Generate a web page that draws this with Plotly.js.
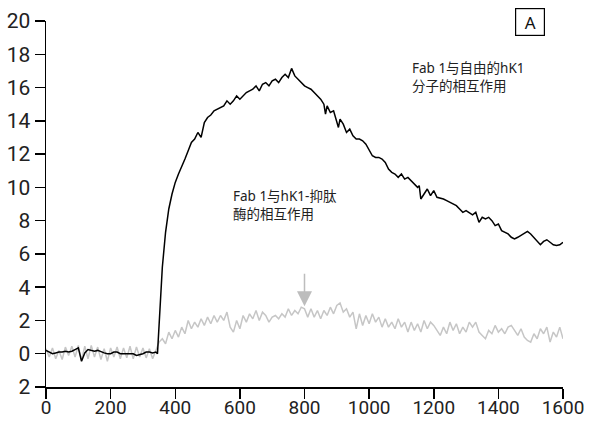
<!DOCTYPE html>
<html>
<head>
<meta charset="utf-8">
<script src="https://cdn.plot.ly/plotly-3.0.1.min.js"></script>
<style>
  html, body { margin: 0; padding: 0; background: #fff; }
  #chart { width: 589px; height: 421px; }
</style>
</head>
<body>
<div id="chart"></div>
<script>
// Response over time (s) for Fab 1 binding
const freeTime = [0,10,20,30,40,50,60,70,80,90,100,110,120,130,140,150,160,170,180,190,200,210,220,230,240,250,260,270,280,290,300,310,320,330,340,345,
  350,360,370,380,390,400,410,420,430,440,450,460,470,480,490,500,510,520,530,540,550,560,570,580,590,600,610,620,630,640,650,660,670,680,690,700,
  710,720,730,740,750,760,770,780,790,800,810,820,830,840,850,860,865,870,880,890,900,905,910,920,930,940,950,960,970,980,990,1000,
  1010,1020,1030,1040,1050,1060,1070,1080,1090,1100,1110,1120,1130,1140,1150,1155,1160,1170,1180,1190,1200,1210,1220,1230,1240,1250,1260,1270,1280,1290,1300,
  1310,1320,1330,1340,1350,1360,1370,1380,1390,1400,1410,1420,1430,1440,1450,1460,1470,1480,1490,1500,1510,1520,1530,1540,1550,1560,1570,1580,1590,1600];
const freeResp = [0.2,0.1,0.0,0.05,0.1,0.1,0.15,0.1,0.15,0.25,0.35,-0.45,0.05,0.25,0.2,0.15,0.2,0.1,0.05,0.0,0.0,0.1,0.1,0.0,0.0,0.0,0.0,0.0,-0.1,-0.05,0.0,0.1,0.1,0.05,0.1,0.0,
  2.0,5.2,7.3,8.7,9.6,10.3,10.8,11.2,11.7,12.2,12.7,12.9,13.3,13.0,13.9,14.2,14.35,14.6,14.7,14.8,14.9,15.2,15.0,15.2,15.5,15.3,15.5,15.7,15.8,15.9,16.1,15.8,16.2,16.3,16.1,16.4,
  16.5,16.3,16.6,16.8,16.6,17.15,16.7,16.5,16.3,16.1,16.0,15.9,15.7,15.5,15.3,15.0,14.4,14.9,14.5,14.6,14.0,13.6,14.1,13.8,13.3,13.5,13.1,12.9,12.9,12.8,12.6,12.2,
  11.9,11.8,11.8,11.7,11.5,11.1,10.9,10.8,10.6,10.8,10.5,10.6,10.4,10.2,10.0,10.1,9.3,9.6,9.9,9.5,9.8,9.4,9.35,9.3,9.2,9.1,9.0,8.9,8.7,8.5,8.6,
  8.5,8.35,8.5,7.9,8.2,8.1,8.2,8.0,7.7,7.8,7.4,7.3,7.2,7.0,6.9,7.0,7.1,7.2,7.35,7.2,7.0,6.8,6.55,6.75,6.85,6.7,6.55,6.5,6.55,6.7];

const complexTime = [0,10,20,30,40,50,60,70,80,90,100,110,120,130,140,150,160,170,180,190,200,210,220,230,240,250,260,270,280,290,300,310,320,330,340,
  350,360,370,380,390,400,410,420,430,440,450,460,470,480,490,500,510,520,530,540,550,560,570,580,590,600,610,620,630,640,650,660,670,680,690,700,
  710,720,730,740,750,760,770,780,790,800,810,820,830,840,850,860,870,880,890,900,910,920,930,940,950,960,970,980,990,1000,
  1010,1020,1030,1040,1050,1060,1070,1080,1090,1100,1110,1120,1130,1140,1150,1160,1170,1180,1190,1200,1210,1220,1230,1240,1250,1260,1270,1280,1290,1300,
  1310,1320,1330,1340,1350,1360,1370,1380,1390,1400,1410,1420,1430,1440,1450,1460,1470,1480,1490,1500,1510,1520,1530,1540,1550,1560,1570,1580,1590,1600];
const complexResp = [0.3,-0.2,0.35,-0.3,0.2,-0.35,0.4,-0.1,0.45,-0.2,0.5,-0.4,0.45,-0.3,0.5,-0.2,0.4,-0.35,0.3,-0.45,0.35,-0.2,0.4,-0.3,0.35,-0.25,0.45,-0.3,0.4,-0.2,0.35,-0.25,0.3,-0.3,0.2,
  0.7,0.9,0.6,1.3,0.9,1.4,1.0,1.6,1.2,2.0,1.5,1.9,1.6,2.1,1.7,2.2,1.8,2.3,1.9,2.3,2.0,2.5,1.6,1.3,2.0,1.5,2.3,1.9,2.4,2.1,2.6,2.0,2.5,2.3,1.9,2.2,
  2.3,2.1,2.4,2.2,2.7,2.3,2.6,2.4,2.8,2.7,2.2,2.7,2.2,2.6,2.1,2.6,2.3,2.8,2.4,2.9,3.05,2.5,2.7,2.2,2.5,1.5,2.4,1.7,2.3,1.8,
  2.4,1.9,2.2,1.6,2.1,1.6,1.9,1.5,2.1,1.6,1.9,1.3,1.9,1.4,1.8,1.3,2.0,1.5,1.9,1.7,1.4,1.1,1.6,1.2,1.9,1.4,1.8,1.2,1.6,1.3,
  1.9,1.6,1.9,1.3,1.1,0.9,1.4,1.2,1.7,1.3,1.5,1.2,1.6,1.7,1.4,1.1,1.5,1.0,0.8,0.7,1.2,0.9,1.5,1.2,1.6,0.7,1.3,1.0,1.6,0.9];

const yTickVals = [-2,0,2,4,6,8,10,12,14,16,18,20];
const yTickText = ['2','0','2','4','6','8','10','12','14','16','18','20'];
const xTickVals = [0,200,400,600,800,1000,1200,1400,1600];

const freeLabel = 'Fab 1与自由的hK1<br>分子的相互作用';
const complexLabel = 'Fab 1与hK1-抑肽<br>酶的相互作用';
const panelLabel = 'A';

const yTickFont = {family: 'Roboto, "Noto Sans", sans-serif', size: 21, color: '#222'};
const xTickFont = {family: 'Roboto, "Noto Sans", sans-serif', size: 19, color: '#222'};
const noteFont = {family: '"Noto Sans", "Noto Sans CJK SC", sans-serif', size: 13.5, color: '#222'};

const traces = [
  {x: complexTime, y: complexResp, mode: 'lines', line: {color: '#c6c6c6', width: 1.5}, hoverinfo: 'skip'},
  {x: freeTime, y: freeResp, mode: 'lines', line: {color: '#000', width: 1.5}, hoverinfo: 'skip'}
];

const layout = {
  width: 589, height: 421,
  margin: {l: 46, r: 25.5, t: 21, b: 33.5},
  paper_bgcolor: '#fff', plot_bgcolor: '#fff',
  showlegend: false,
  xaxis: {
    range: [0, 1600], tickvals: xTickVals, showgrid: false, zeroline: false,
    showline: true, linecolor: '#000', linewidth: 1.5,
    ticks: 'outside', ticklen: 10, tickwidth: 1.5, tickcolor: '#000',
    ticklabelstandoff: -7,
    tickfont: xTickFont, fixedrange: true
  },
  yaxis: {
    range: [-2, 20], tickvals: yTickVals, ticktext: yTickText, showgrid: false, zeroline: false,
    showline: true, linecolor: '#000', linewidth: 1.5,
    ticks: 'outside', ticklen: 10, tickwidth: 1.5, tickcolor: '#000',
    tickfont: yTickFont, fixedrange: true
  },
  annotations: [
    {xref: 'x', yref: 'y', x: 1126, y: 16.64, xanchor: 'left', yanchor: 'middle', align: 'left',
     text: freeLabel, showarrow: false, font: noteFont},
    {xref: 'x', yref: 'y', x: 572, y: 8.92, xanchor: 'left', yanchor: 'middle', align: 'left',
     text: complexLabel, showarrow: false, font: noteFont},
    {xref: 'x', yref: 'y', x: 800, y: 2.85, text: '', showarrow: true, ax: 0, ay: -34,
     arrowhead: 2, arrowsize: 2, arrowwidth: 1.5, arrowcolor: '#bdbdbd'},
    {xref: 'paper', yref: 'paper', x: 0.936, y: 0.996, xanchor: 'center', yanchor: 'middle',
     text: panelLabel, showarrow: false, bordercolor: '#000', borderwidth: 1.2, borderpad: 3,
     width: 22, height: 20,
     font: {family: '"Noto Sans", sans-serif', size: 17, color: '#111'}}
  ]
};

Plotly.newPlot('chart', traces, layout, {staticPlot: true, displayModeBar: false});
</script>
</body>
</html>
